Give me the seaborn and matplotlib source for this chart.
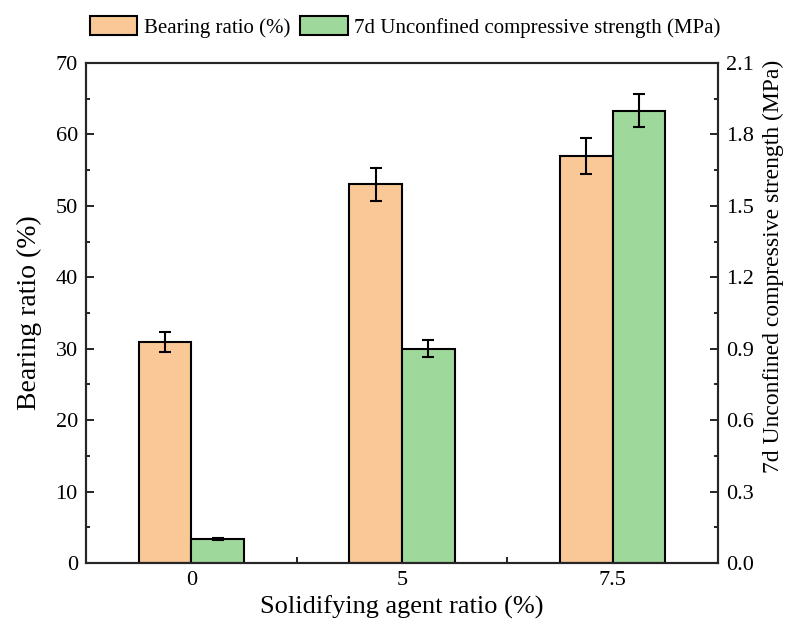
import pandas as pd
import matplotlib.pyplot as plt
import numpy as np
import seaborn as sns
from matplotlib.patches import Patch
from matplotlib.ticker import MultipleLocator

# values
ratios = ["0", "5", "7.5"]
bearing = [31, 53, 57]
bearing_err = [1.4, 2.3, 2.5]
ucs = [0.1, 0.9, 1.9]
ucs_err = [0.005, 0.035, 0.07]
series = ["Bearing ratio (%)", "7d Unconfined compressive strength (MPa)"]
colors = ["#FAC896", "#9FD89B"]

sns.set_style("ticks")
plt.rcParams["font.family"] = ["Liberation Serif", "DejaVu Serif"]
plt.rcParams["text.color"] = "black"
plt.rcParams["axes.labelcolor"] = "black"
plt.rcParams["xtick.color"] = "black"
plt.rcParams["ytick.color"] = "black"

# long table; each axis gets NaN for the other series so dodge lines up
df_left = pd.DataFrame({"ratio": ratios * 2,
                        "series": [series[0]] * 3 + [series[1]] * 3,
                        "value": bearing + [np.nan] * 3})
df_right = pd.DataFrame({"ratio": ratios * 2,
                         "series": [series[0]] * 3 + [series[1]] * 3,
                         "value": [np.nan] * 3 + ucs})

fig, ax = plt.subplots(figsize=(7.9, 6.42), dpi=100)
ax2 = ax.twinx()

sns.barplot(data=df_left, x="ratio", y="value", hue="series", hue_order=series,
            palette=colors, saturation=1, width=0.5, edgecolor="black", linewidth=1.5,
            errorbar=None, legend=False, ax=ax)
sns.barplot(data=df_right, x="ratio", y="value", hue="series", hue_order=series,
            palette=colors, saturation=1, width=0.5, edgecolor="black", linewidth=1.5,
            errorbar=None, legend=False, ax=ax2)

# error bars on top of the drawn bars
def add_err(axis, errs):
    bars = [p for p in axis.patches if np.isfinite(p.get_height()) and p.get_height() > 0]
    bars = sorted(bars, key=lambda p: p.get_x())
    xs = [p.get_x() + p.get_width() / 2 for p in bars]
    hs = [p.get_height() for p in bars]
    axis.errorbar(xs, hs, yerr=errs, fmt="none", ecolor="black",
                  elinewidth=1.5, capsize=4.5, capthick=1.5, zorder=5)

add_err(ax, bearing_err)
add_err(ax2, ucs_err)

ax.set_xlim(-0.5, 2.5)
ax.set_ylim(0, 70)
ax2.set_ylim(0, 2.1)
ax.yaxis.set_major_locator(MultipleLocator(10))
ax.yaxis.set_minor_locator(MultipleLocator(5))
ax2.yaxis.set_major_locator(MultipleLocator(0.3))
ax2.yaxis.set_minor_locator(MultipleLocator(0.15))
ax2.yaxis.set_major_formatter(plt.FormatStrFormatter("%.1f"))
ax.xaxis.set_minor_locator(MultipleLocator(0.5))

for a in (ax, ax2):
    a.tick_params(which="major", direction="in", length=6, width=1.2,
                  labelsize=16, pad=6)
    a.tick_params(which="minor", direction="in", length=3, width=1.2)
    for s in a.spines.values():
        s.set_linewidth(1.5)
ax.tick_params(axis="x", which="minor", length=4)

ax.set_xlabel("Solidifying agent ratio (%)", fontsize=19, labelpad=4)
ax.set_ylabel("Bearing ratio (%)", fontsize=20)
ax.yaxis.set_label_coords(-0.07, 0.5)
ax2.set_ylabel("7d Unconfined compressive strength (MPa)", fontsize=17)
ax2.yaxis.set_label_coords(1.071, 0.594)

handles = [Patch(facecolor=c, edgecolor="black", linewidth=1.5) for c in colors]
fig.legend(handles, series, loc="center", bbox_to_anchor=(0.513, 0.958), ncol=2,
           frameon=False, fontsize=15, handlelength=2.26, handleheight=1.0,
           columnspacing=0.5, handletextpad=0.33)

fig.subplots_adjust(left=0.109, right=0.909, top=0.902, bottom=0.123)
fig.savefig("out.png", dpi=100)
